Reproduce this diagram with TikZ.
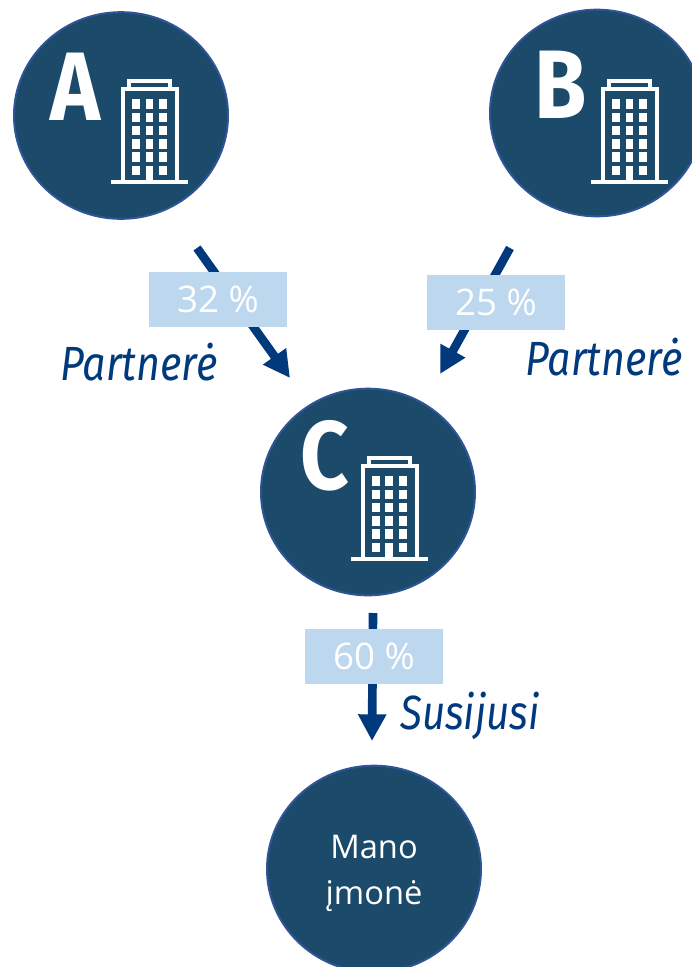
\documentclass[tikz,border=0pt]{standalone}
\usepackage{graphicx}
\usepackage{fontspec}
\setmainfont{Open Sans}
\newfontfamily\labelfont{Fira Sans}
\usetikzlibrary{shapes.geometric,arrows.meta}
\definecolor{discfill}{HTML}{1B4A6B}
\definecolor{discedge}{HTML}{2F5597}
\definecolor{arrowblue}{HTML}{003A7D}
\definecolor{boxblue}{HTML}{BDD7EE}
\tikzset{
  disc/.style={ellipse,draw=discedge,line width=1.5pt,fill=discfill,minimum width=160.5pt,minimum height=155pt,inner sep=0pt},
  letter/.style={anchor=base,text=white,inner sep=0pt,font=\labelfont\bfseries\fontsize{73}{73}\selectfont},
  flow/.style={draw=arrowblue,line width=6.5pt,-{Triangle[length=20pt,width=20pt]}},
  pctbox/.style={fill=boxblue,minimum width=103.5pt,minimum height=41.25pt,inner sep=0pt,text=white,font=\fontsize{27.5}{27.5}\selectfont},
  kind/.style={anchor=base west,inner sep=0pt,text=arrowblue,font=\labelfont\itshape\fontsize{36}{36}\selectfont},
  building/.pic={
    \draw[white,line width=3pt] (12,-4) -- (12,-96) -- (66,-96) -- (66,-4);
    \draw[white,line width=3pt] (18,-96) -- (18,-104) -- (59,-104) -- (59,-96);
    \draw[white,line width=3pt] (0,-3) -- (77,-3);
    \foreach \r in {0,...,5}{
      \foreach \c in {21.3,34.7,48.3}{
        \ifnum\r=0
          \ifdim\c pt=34.7pt\else
            \fill[white] (\c,-9.7-\r*13.3) rectangle ++(7.7,-9.6);
          \fi
        \else
          \fill[white] (\c,-9.7-\r*13.3) rectangle ++(7.7,-9.6);
        \fi
      }
    }
    \fill[white] (34.7,-3) rectangle (42.4,-19.3);
  }
}
\begin{document}
\begin{tikzpicture}[x=0.75pt,y=-0.75pt]
\clip (0,0) rectangle (692,967);
\fill[white] (0,0) rectangle (692,967);
\node[disc] (a) at (121,115.5) {};
\node[disc] (b) at (597,113) {};
\node[disc] (c) at (368,492) {};
\node[disc] (m) at (374,869) {};
\node[letter] (la) at (75,120) {\scalebox{0.87}[1]{A}};
\node[letter] (lb) at (560.5,118) {\scalebox{0.87}[1]{B}};
\node[letter] (lc) at (324.5,489) {\scalebox{0.87}[1]{C}};
\pic at (111,185) {building};
\pic at (591,185) {building};
\pic at (350.5,562) {building};
\coordinate (a1) at (197,248);
\coordinate (a2) at (290,378);
\coordinate (b1) at (510,248);
\coordinate (b2) at (440,374);
\coordinate (c1) at (373,613);
\coordinate (c2) at (372,741);
\draw[flow] (a1) -- (a2);
\draw[flow] (b1) -- (b2);
\draw[flow] (c1) -- (c2);
\node[pctbox] (p1) at (218,299.5) {32 \%};
\node[pctbox] (p2) at (496,302.5) {25 \%};
\node[pctbox] (p3) at (374,656.5) {60 \%};
\node[kind] (k1) at (60,380) {\scalebox{0.86}[1]{Partnerė}};
\node[kind] (k2) at (525,375) {\scalebox{0.86}[1]{Partnerė}};
\node[kind] (k3) at (400,729) {\scalebox{0.84}[1]{Susijusi}};
\node[text=white,align=center,inner sep=0pt,font=\fontsize{24.5}{34.5}\selectfont] (mt) at (374,873.5) {Mano\\įmonė};
\end{tikzpicture}
\end{document}
